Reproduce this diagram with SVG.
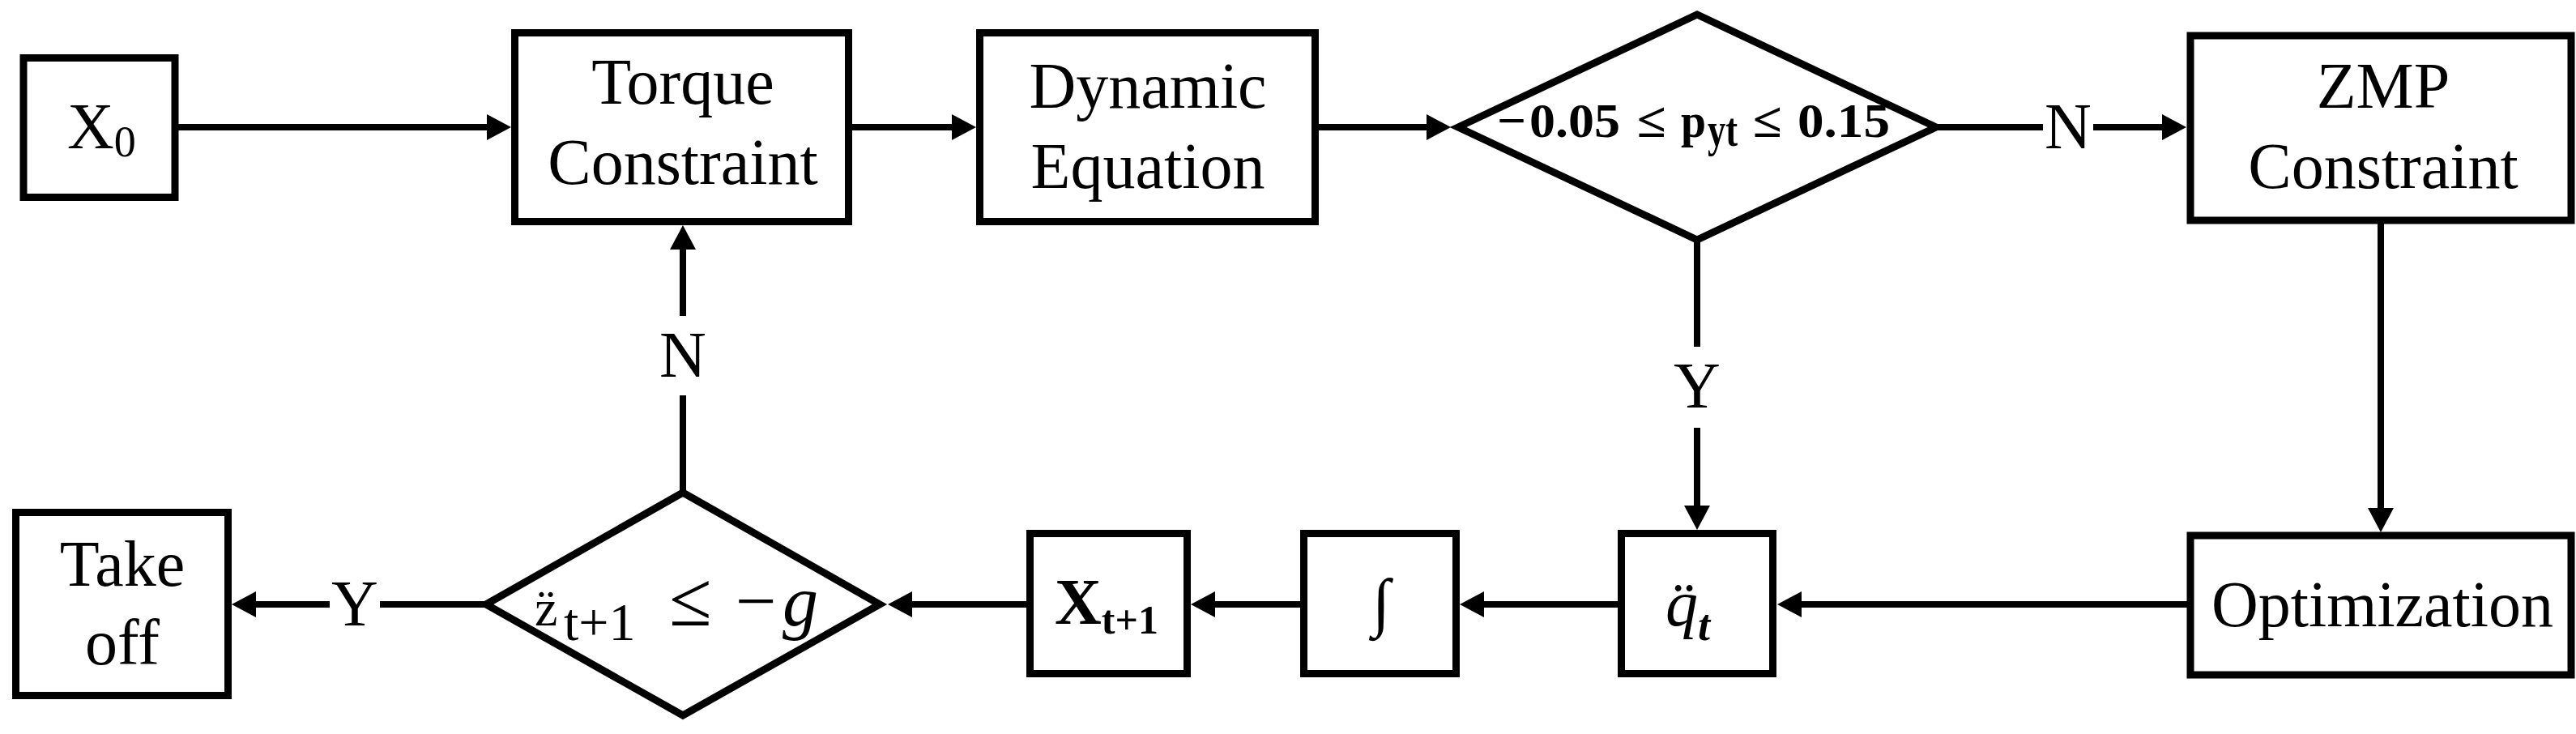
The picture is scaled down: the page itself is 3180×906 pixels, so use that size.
<svg xmlns="http://www.w3.org/2000/svg" width="3180" height="906" viewBox="0 0 3180 906">
<style>
.box{fill:#fff;stroke:#000;stroke-width:9}
.dia{fill:#fff;stroke:#000;stroke-width:9;stroke-linejoin:miter}
.ln{fill:none;stroke:#000;stroke-width:8}
.t{font-family:"Liberation Serif","Times New Roman",serif;font-size:80px;fill:#000}
.m{text-anchor:middle}
.b{font-weight:bold;font-size:60px}
</style>
<defs>
<marker id="ah" markerUnits="userSpaceOnUse" viewBox="0 0 30 32" refX="4" refY="16" markerWidth="30" markerHeight="32" orient="auto">
<path d="M0,0 L30,16 L0,32 z" fill="#000"/>
</marker>
</defs>
<rect width="3180" height="906" fill="#fff"/>
<g id="connectors">
<line class="ln" x1="216" y1="157" x2="605" y2="157" marker-end="url(#ah)"/>
<line class="ln" x1="1047" y1="157" x2="1179" y2="157" marker-end="url(#ah)"/>
<line class="ln" x1="1623" y1="157" x2="1765" y2="157" marker-end="url(#ah)"/>
<line class="ln" x1="2390" y1="157" x2="2522" y2="157"/>
<line class="ln" x1="2584" y1="157" x2="2673" y2="157" marker-end="url(#ah)"/>
<text class="t m" x="2553" y="183">N</text>
<line class="ln" x1="2939" y1="272" x2="2939" y2="631" marker-end="url(#ah)"/>
<line class="ln" x1="2704" y1="746" x2="2220" y2="746" marker-end="url(#ah)"/>
<line class="ln" x1="2001" y1="746" x2="1828" y2="746" marker-end="url(#ah)"/>
<line class="ln" x1="1609" y1="746" x2="1496" y2="746" marker-end="url(#ah)"/>
<line class="ln" x1="1271" y1="746" x2="1122" y2="746" marker-end="url(#ah)"/>
<line class="ln" x1="600" y1="746" x2="469" y2="746"/>
<line class="ln" x1="407" y1="746" x2="312" y2="746" marker-end="url(#ah)"/>
<text class="t m" x="438" y="772">Y</text>
<line class="ln" x1="843" y1="608" x2="843" y2="488"/>
<line class="ln" x1="843" y1="390" x2="843" y2="304" marker-end="url(#ah)"/>
<text class="t m" x="843" y="465">N</text>
<line class="ln" x1="2095" y1="296" x2="2095" y2="428"/>
<line class="ln" x1="2095" y1="528" x2="2095" y2="628" marker-end="url(#ah)"/>
<text class="t m" x="2095" y="503">Y</text>
</g>
<g id="x0">
<rect class="box" x="29" y="71.5" width="187" height="172"/>
<text class="t" x="83" y="183">X<tspan font-size="54" dy="10">0</tspan></text>
</g>
<g id="torque">
<rect class="box" x="635.5" y="40.5" width="412" height="233"/>
<text class="t m" x="843" y="128">Torque</text>
<text class="t m" x="843" y="227">Constraint</text>
</g>
<g id="dynamic">
<rect class="box" x="1209.5" y="40.5" width="414" height="233"/>
<text class="t m" x="1417" y="133">Dynamic</text>
<text class="t m" x="1417" y="232">Equation</text>
</g>
<g id="cond1">
<polygon class="dia" points="1800,157 2095,18 2390,157 2095,296"/>
<text class="t b" x="1848" y="169" textLength="36" lengthAdjust="spacingAndGlyphs">−</text>
<text class="t b" x="1888" y="169" textLength="112" lengthAdjust="spacingAndGlyphs">0.05</text>
<text class="t b" x="2021" y="169" textLength="36" lengthAdjust="spacingAndGlyphs">≤</text>
<text class="t b" x="2075" y="169" textLength="31" lengthAdjust="spacingAndGlyphs">p</text>
<text class="t b" x="2108" y="180" font-size="44" textLength="37" lengthAdjust="spacingAndGlyphs">yt</text>
<text class="t b" x="2164" y="169" textLength="36" lengthAdjust="spacingAndGlyphs">≤</text>
<text class="t b" x="2219" y="169" textLength="114" lengthAdjust="spacingAndGlyphs">0.15</text>
</g>
<g id="zmp">
<rect class="box" x="2704" y="44" width="470" height="228"/>
<text class="t m" x="2942" y="133">ZMP</text>
<text class="t m" x="2942" y="232">Constraint</text>
</g>
<g id="optimization">
<rect class="box" x="2704" y="661" width="470" height="172"/>
<text class="t m" x="2941" y="773" font-size="82">Optimization</text>
</g>
<g id="qdd">
<rect class="box" x="2001.5" y="658.5" width="187" height="173"/>
<text class="t" x="2056" y="772" font-size="80" font-style="italic">q̈<tspan font-size="54" font-weight="bold" dy="18">t</tspan></text>
</g>
<g id="integral">
<rect class="box" x="1609.5" y="658.5" width="188" height="173"/>
<text class="t m" x="1705" y="770" font-size="92">∫</text>
</g>
<g id="xt1">
<rect class="box" x="1271.5" y="658.5" width="194" height="173"/>
<text class="t" x="1302" y="770" font-size="78" font-weight="bold">X<tspan font-size="50" dy="12">t+1</tspan></text>
</g>
<g id="cond2">
<polygon class="dia" points="600,746 843,608 1086,746 843,883"/>
<text class="t" y="772"><tspan x="660" font-size="64">z̈</tspan><tspan x="696" font-size="66" dy="18">t+1</tspan><tspan x="826" dy="-18" font-size="96">≤</tspan><tspan x="908" font-size="90">−</tspan><tspan x="966" font-size="88" font-style="italic">g</tspan></text>
</g>
<g id="takeoff">
<rect class="box" x="19.5" y="632.5" width="262" height="226"/>
<text class="t m" x="151" y="723">Take</text>
<text class="t m" x="151" y="820">off</text>
</g>
</svg>
